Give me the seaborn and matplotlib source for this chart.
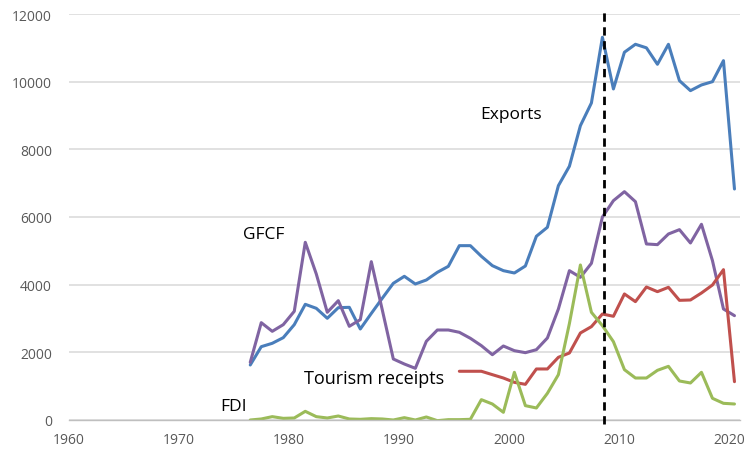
import numpy as np
import pandas as pd
import matplotlib
matplotlib.use("Agg")
import matplotlib.pyplot as plt
import seaborn as sns

# ---------------- data ----------------
exports_years = list(range(1976, 2021))
exports = [1626, 2167, 2267, 2434, 2818, 3419, 3301, 3006, 3320, 3330,
           2690, 3150, 3600, 4040, 4247, 4020, 4138, 4365, 4542, 5153,
           5153, 4838, 4562, 4414, 4345, 4552, 5430, 5696, 6926, 7500,
           8700, 9370, 11312, 9785, 10870, 11105, 11000, 10514, 11105, 10030,
           9735, 9903, 10000, 10621, 6828]

gfcf_years = list(range(1976, 2021))
gfcf = [1705, 2877, 2621, 2818, 3213, 5252, 4316, 3183, 3527, 2769,
        2966, 4680, 3250, 1803, 1655, 1527, 2326, 2660, 2660, 2592,
        2415, 2197, 1930, 2187, 2049, 1990, 2078, 2424, 3281, 4414,
        4217, 4631, 6000, 6483, 6749, 6453, 5203, 5183, 5498, 5626,
        5232, 5785, 4710, 3281, 3084]

tourism_years = list(range(1995, 2021))
tourism = [1440, 1440, 1440, 1340, 1241, 1113, 1054, 1508, 1508, 1853,
           1980, 2572, 2759, 3133, 3065, 3725, 3498, 3931, 3793, 3922,
           3537, 3547, 3754, 3990, 4443, 1133]

fdi_years = list(range(1976, 2021))
fdi = [0, 30, 99, 49, 59, 256, 99, 59, 118, 30,
       20, 40, 30, 0, 69, 0, 89, -20, 10, 10,
       20, 601, 473, 227, 1409, 424, 355, 788, 1340, 2850,
       4582, 3183, 2788, 2315, 1488, 1241, 1241, 1468, 1586, 1153,
       1094, 1409, 641, 493, 473]

series_names = ["Exports", "GFCF", "Tourism receipts", "FDI"]
series_colors = ["#4A7EBB", "#8064A2", "#C0504D", "#9BBB59"]
crisis_year = 2008

# ---------------- build frame ----------------
frames = []
for name, yrs, vals in [("Exports", exports_years, exports),
                        ("GFCF", gfcf_years, gfcf),
                        ("Tourism receipts", tourism_years, tourism),
                        ("FDI", fdi_years, fdi)]:
    frames.append(pd.DataFrame({"year": np.array(yrs) + 0.5,
                                "value": vals, "series": name}))
df = pd.concat(frames, ignore_index=True)

# ---------------- plot ----------------
sns.set_style("white")
plt.rcParams["font.family"] = ["Open Sans", "DejaVu Sans"]

fig = plt.figure(figsize=(7.53, 4.52), dpi=100)
ax = fig.add_axes([0.0912, 0.0686, 0.8915, 0.8982])

sns.lineplot(data=df, x="year", y="value", hue="series",
             hue_order=series_names,
             palette=dict(zip(series_names, series_colors)),
             linewidth=2.2, legend=False, ax=ax, sort=True)

ax.set_xlim(1960, 2021)
ax.set_ylim(0, 12000)
ax.set_yticks(range(0, 12001, 2000))
ax.set_xticks(range(1960, 2021, 10))
ax.set_xlabel("")
ax.set_ylabel("")

ax.yaxis.grid(True, color="#D9D9D9", linewidth=1.1)
ax.set_axisbelow(True)
for s in ["top", "right", "left"]:
    ax.spines[s].set_visible(False)
ax.spines["bottom"].set_color("#BFBFBF")
ax.spines["bottom"].set_linewidth(1.0)

ax.tick_params(axis="y", length=0, pad=12, labelsize=10, labelcolor="#595959")
ax.tick_params(axis="x", length=4, width=1, color="#BFBFBF", direction="out",
               pad=5, labelsize=10, labelcolor="#595959")

# vertical dashed marker
ax.axvline(crisis_year + 0.6, ymin=-0.01, ymax=1.01, color="black",
           linestyle=(0, (3, 2)), linewidth=2, clip_on=False, zorder=5)

# series labels
ax.text(1997.4, 9050, "Exports", fontsize=12.5, color="black", va="center", ha="left")
ax.text(1975.8, 5500, "GFCF", fontsize=12.5, color="black", va="center", ha="left")
ax.text(1981.4, 1230, "Tourism receipts", fontsize=13, color="black", va="center", ha="left")
ax.text(1973.8, 400, "FDI", fontsize=12.5, color="black", va="center", ha="left")

fig.savefig("out.png", dpi=100)
